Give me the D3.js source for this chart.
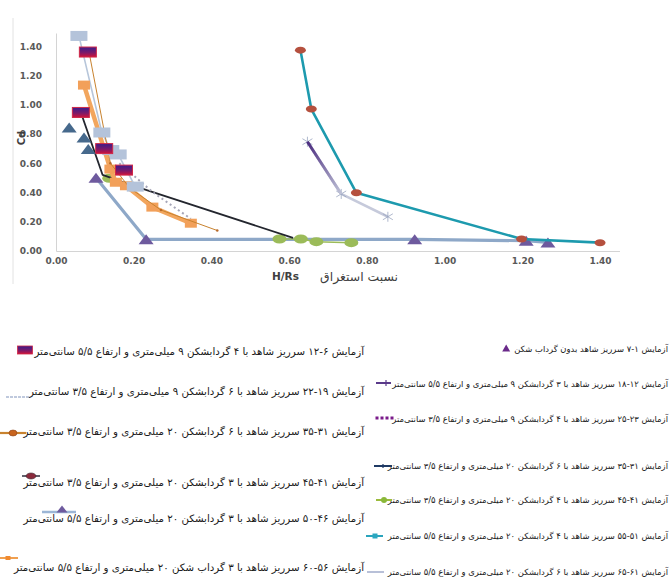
<!DOCTYPE html>
<html><head><meta charset="utf-8">
<script src="https://cdn.jsdelivr.net/npm/d3@7"></script>
<style>body{margin:0;background:#fff}svg{display:block}</style>
</head><body>
<svg id="c" width="670" height="581"></svg>
<script>
// ---------- data ----------
const xTicks = [0, 0.2, 0.4, 0.6, 0.8, 1.0, 1.2, 1.4];
const yTicks = [0, 0.2, 0.4, 0.6, 0.8, 1.0, 1.2, 1.4];

const hrs_1_7 = [0.034, 0.072, 0.083];
const cd_1_7  = [0.845, 0.776, 0.697];

const hrs_6_12 = [0.082, 0.064, 0.124, 0.175];
const cd_6_12  = [1.36, 0.947, 0.70, 0.553];

const hrs_12_18 = [0.647, 0.734];
const cd_12_18  = [0.747, 0.39];

const hrs_19_22 = [0.059, 0.118, 0.141, 0.16, 0.204];
const cd_19_22  = [1.47, 0.81, 0.69, 0.66, 0.44];

const hrs_23_25 = [0.163, 0.25, 0.347];
const cd_23_25  = [0.60, 0.40, 0.22];

const hrs_31_35a = [0.085, 0.14, 0.19, 0.27, 0.415];
const cd_31_35a  = [1.36, 0.60, 0.43, 0.28, 0.14];

const hrs_31_35b = [0.064, 0.12, 0.20, 0.61];
const cd_31_35b  = [0.947, 0.52, 0.445, 0.09];

const hrs_41_45 = [0.137, 0.575, 0.63, 0.67, 0.76];
const cd_41_45  = [0.497, 0.082, 0.082, 0.064, 0.057];

const hrs_46_50 = [0.103, 0.232, 0.923, 1.21, 1.266];
const cd_46_50  = [0.50, 0.08, 0.08, 0.07, 0.058];

const hrs_51_55 = [0.629, 0.657, 0.773, 1.198, 1.40];
const cd_51_55  = [1.373, 0.97, 0.398, 0.082, 0.057];

const hrs_56_60 = [0.072, 0.14, 0.154, 0.18, 0.248, 0.347];
const cd_56_60  = [1.134, 0.56, 0.47, 0.446, 0.30, 0.19];

const hrs_61_65 = [0.647, 0.734, 0.854];
const cd_61_65  = [0.747, 0.39, 0.234];

const legendLeft = [
  "آزمایش ۶-۱۲ سرریز شاهد با ۴ گردابشکن ۹ میلی\u200cمتری و ارتفاع ۵/۵ سانتی\u200cمتر",
  "آزمایش ۱۹-۲۲ سرریز شاهد با ۶ گردابشکن ۹ میلی\u200cمتری و ارتفاع ۳/۵ سانتی\u200cمتر",
  "آزمایش ۳۱-۳۵ سرریز شاهد با ۶ گردابشکن ۲۰ میلی\u200cمتری و ارتفاع ۳/۵ سانتی\u200cمتر",
  "آزمایش ۴۱-۴۵ سرریز شاهد با ۳ گردابشکن ۲۰ میلی\u200cمتری و ارتفاع ۳/۵ سانتی\u200cمتر",
  "آزمایش ۴۶-۵۰ سرریز شاهد با ۳ گردابشکن ۲۰ میلی\u200cمتری و ارتفاع ۵/۵ سانتی\u200cمتر",
  "آزمایش ۵۶-۶۰ سرریز شاهد با ۳ گرداب شکن ۲۰ میلی\u200cمتری و ارتفاع ۵/۵ سانتی\u200cمتر"
];
const legendRight = [
  "آزمایش ۱-۷ سرریز شاهد بدون گرداب شکن",
  "آزمایش ۱۲-۱۸ سرریز شاهد با ۳ گردابشکن ۹ میلی\u200cمتری و ارتفاع ۵/۵ سانتی\u200cمتر",
  "آزمایش ۲۳-۲۵ سرریز شاهد با ۴ گردابشکن ۹ میلی\u200cمتری و ارتفاع ۳/۵ سانتی\u200cمتر",
  "آزمایش ۳۱-۳۵ سرریز شاهد با ۶ گردابشکن ۲۰ میلی\u200cمتری و ارتفاع ۳/۵ سانتی\u200cمتر",
  "آزمایش ۴۱-۴۵ سرریز شاهد با ۴ گردابشکن ۲۰ میلی\u200cمتری و ارتفاع ۳/۵ سانتی\u200cمتر",
  "آزمایش ۵۱-۵۵ سرریز شاهد با ۴ گردابشکن ۲۰ میلی\u200cمتری و ارتفاع ۵/۵ سانتی\u200cمتر",
  "آزمایش ۶۱-۶۵ سرریز شاهد با ۶ گردابشکن ۲۰ میلی\u200cمتری و ارتفاع ۵/۵ سانتی\u200cمتر"
];
const xTitleLatin = "H/Rs";
const xTitlePersian = "نسبت استغراق";
const yTitle = "Cd";

// ---------- setup ----------
const svg = d3.select("#c");
const defs = svg.append("defs");
const grad = defs.append("linearGradient").attr("id","rg").attr("x1",0).attr("y1",0).attr("x2",0).attr("y2",1);
grad.append("stop").attr("offset","0%").attr("stop-color","#3a1c8c");
grad.append("stop").attr("offset","55%").attr("stop-color","#7a1a6a");
grad.append("stop").attr("offset","100%").attr("stop-color","#d0123a");
const pg = defs.append("linearGradient").attr("id","pg").attr("gradientUnits","userSpaceOnUse");

const x = d3.scaleLinear().domain([0, 1.45]).range([56, 56 + 1.45 * 388.6]);
const y = d3.scaleLinear().domain([0, 1.49]).range([251, 251 - 1.49 * 146.3]);

const fam = "DejaVu Sans";
function measure(t, fs, weight) {
  const n = svg.append("text").attr("font-family",fam).attr("font-size",fs)
    .attr("font-weight",weight||"normal").attr("direction","rtl").text(t);
  const w = n.node().getComputedTextLength(); n.remove(); return w;
}

// chart frame left border
svg.append("line").attr("x1",13).attr("x2",13).attr("y1",18).attr("y2",284)
  .attr("stroke","#e2e2e2").attr("stroke-width",1);

// axes
const ax = svg.append("g").attr("transform",`translate(0,${y(0)})`)
  .call(d3.axisBottom(x).tickValues(xTicks).tickFormat(d3.format(".2f")).tickSize(0).tickPadding(7));
const ay = svg.append("g").attr("transform",`translate(${x(0)},0)`)
  .call(d3.axisLeft(y).tickValues(yTicks).tickFormat(d3.format(".2f")).tickSize(0).tickPadding(14));
[ax, ay].forEach(g => {
  g.select(".domain").attr("stroke","#d4d4d4").attr("stroke-width",1);
  g.selectAll("text").attr("font-family",fam).attr("font-size",9)
    .attr("font-weight","bold").attr("fill","#595959");
});

svg.append("text").attr("transform","translate(25,138) rotate(-90)")
  .attr("text-anchor","middle").attr("font-family",fam).attr("font-weight","bold")
  .attr("font-size",10).attr("fill","#404040").text(yTitle);
svg.append("text").attr("x",272).attr("y",280).attr("font-family",fam)
  .attr("font-weight","bold").attr("font-size",10.5).attr("fill","#404040").text(xTitleLatin);
const fsX = 10 * 78 / measure(xTitlePersian, 10);
svg.append("text").attr("x",398).attr("y",281).attr("direction","rtl").attr("text-anchor","start")
  .attr("font-family",fam).attr("font-size",fsX).attr("fill","#404040").text(xTitlePersian);

// ---------- markers ----------
function marker(g, type, cx, cy, o) {
  o = o || {};
  const w = o.w || 14, h = o.h || 9;
  if (type === "tri") {
    g.append("path").attr("d",`M${cx-w/2},${cy+h/2}L${cx},${cy-h/2}L${cx+w/2},${cy+h/2}Z`)
      .attr("fill",o.fill).attr("stroke",o.stroke||"none").attr("stroke-width",0.6);
  } else if (type === "rect") {
    g.append("rect").attr("x",cx-w/2).attr("y",cy-h/2).attr("width",w).attr("height",h)
      .attr("fill",o.fill).attr("stroke",o.stroke||"none").attr("stroke-width",o.sw||0.8);
  } else if (type === "ell") {
    g.append("ellipse").attr("cx",cx).attr("cy",cy).attr("rx",w/2).attr("ry",h/2)
      .attr("fill",o.fill).attr("stroke",o.stroke||"none").attr("stroke-width",0.6);
  } else if (type === "star") {
    const s = w/2;
    [[-s,-s*0.6,s,s*0.6],[-s,s*0.6,s,-s*0.6],[0,-s,0,s]].forEach(l =>
      g.append("line").attr("x1",cx+l[0]).attr("y1",cy+l[1]).attr("x2",cx+l[2]).attr("y2",cy+l[3])
        .attr("stroke",o.stroke).attr("stroke-width",o.sw||0.9));
  } else if (type === "dot") {
    g.append("circle").attr("cx",cx).attr("cy",cy).attr("r",w/2).attr("fill",o.fill);
  } else if (type === "plus") {
    g.append("line").attr("x1",cx-w/2).attr("x2",cx+w/2).attr("y1",cy).attr("y2",cy).attr("stroke",o.stroke).attr("stroke-width",1.2);
    g.append("line").attr("x1",cx).attr("x2",cx).attr("y1",cy-h/2).attr("y2",cy+h/2).attr("stroke",o.stroke).attr("stroke-width",1.2);
  }
}

const line = d3.line().x(d => x(d[0])).y(d => y(d[1]));
const zip = (a, b) => a.map((v, i) => [v, b[i]]);

// series configs (styles only)
const series = [
  {xs: hrs_46_50, ys: cd_46_50, stroke:"#8ea8c8", sw:3.2, m:"tri", mo:{fill:"#6e5a9e", w:15, h:10}},
  {xs: hrs_41_45, ys: cd_41_45, stroke:"#9bbb59", sw:1.5, lineFrom:1, m:"ell", mo:{fill:"#9bbb59", w:14, h:9}},
  {xs: hrs_61_65, ys: cd_61_65, stroke:"#c6cadb", sw:2.6, m:"star", mo:{stroke:"#9aa6c0", w:10, sw:0.8}},
  {xs: hrs_12_18, ys: cd_12_18, stroke:"url(#pg)", sw:3, m:null},
  {xs: hrs_51_55, ys: cd_51_55, stroke:"#1d9aae", sw:2.6, m:"ell", mo:{fill:"#b5503e", w:11, h:7}},
  {xs: hrs_31_35b, ys: cd_31_35b, stroke:"#23262e", sw:1.8, m:null},
  {xs: hrs_23_25, ys: cd_23_25, stroke:"#a6a6b8", sw:2, dash:"2,3", m:null},
  {xs: hrs_19_22, ys: cd_19_22, stroke:"#b7c6da", sw:1.6, m:null},
  {xs: hrs_56_60, ys: cd_56_60, stroke:"#f2a65e", sw:4.5, m:"rect", mo:{fill:"#f2a05a", w:12, h:9}},
  {xs: hrs_31_35a, ys: cd_31_35a, stroke:"#c8822e", sw:1, m:"dot", mo:{fill:"#b86a2a", w:2.5}},
  {xs: hrs_19_22, ys: cd_19_22, stroke:"none", sw:0, m:"rect", mo:{fill:"#b4c3da", w:17, h:10}},
  {xs: hrs_6_12, ys: cd_6_12, stroke:"none", sw:0, m:"rect", mo:{fill:"url(#rg)", stroke:"#d02848", w:17, h:10, sw:1}},
  {xs: hrs_1_7, ys: cd_1_7, stroke:"none", sw:0, m:"tri", mo:{fill:"#46698c", w:15, h:10}}
];

pg.attr("x1", x(hrs_12_18[0])).attr("y1", y(cd_12_18[0]))
  .attr("x2", x(hrs_12_18[1])).attr("y2", y(cd_12_18[1]));
pg.append("stop").attr("offset","0%").attr("stop-color","#4a2a7e");
pg.append("stop").attr("offset","100%").attr("stop-color","#c0c4d8");

const plot = svg.append("g");
series.forEach(s => {
  const pts = zip(s.xs, s.ys);
  if (s.stroke !== "none") {
    plot.append("path").attr("d", line(pts.slice(s.lineFrom || 0))).attr("fill","none")
      .attr("stroke", s.stroke).attr("stroke-width", s.sw).attr("stroke-linejoin","round")
      .attr("stroke-dasharray", s.dash || null);
  }
  if (s.m) pts.forEach(p => marker(plot, s.m, x(p[0]), y(p[1]), s.mo));
});

// ---------- legend ----------
const fsL = 10 * 330 / measure(legendLeft[0], 10);
const fsR = 10 * 276 / measure(legendRight[1], 10);
const rightEdge = 668;

const lg = svg.append("g");
const leftY = [355, 395, 435, 486, 522, 571];
leftY.forEach((yy, i) => {
  lg.append("text").attr("x",364).attr("y",yy).attr("direction","rtl").attr("text-anchor","start")
    .attr("font-family",fam).attr("font-size",fsL).attr("fill","#1a1a1a").text(legendLeft[i]);
});
const rightY = [352, 387, 422, 469, 503, 539, 575];
rightY.forEach((yy, i) => {
  lg.append("text").attr("x",rightEdge).attr("y",yy).attr("direction","rtl").attr("text-anchor","start")
    .attr("font-family",fam).attr("font-size",fsR).attr("fill","#1a1a1a").text(legendRight[i]);
});
const r1Left = rightEdge - measure(legendRight[0], fsR);

function lline(x1, x2, yy, c, w, dash) {
  lg.append("line").attr("x1",x1).attr("x2",x2).attr("y1",yy).attr("y2",yy)
    .attr("stroke",c).attr("stroke-width",w).attr("stroke-dasharray",dash||null);
}
// left markers
marker(lg, "rect", 25, 350, {fill:"url(#rg)", stroke:"#d02848", w:15, h:8});
lline(6, 30, 397, "#aab8d2", 1.6, "3,1");
lline(0, 26, 433, "#c8822e", 2.2); marker(lg, "ell", 13, 433, {fill:"#c8641e", stroke:"#8a4010", w:8, h:6});
lline(22, 40, 476, "#3a3a48", 1.6); marker(lg, "ell", 31, 476, {fill:"#8a2a3c", stroke:"#3a2a30", w:10, h:6});
lline(42, 76, 512, "#9cb6d6", 2.4); marker(lg, "tri", 62, 509, {fill:"#6e5a9e", w:11, h:7});
lline(0, 18, 558, "#f0a050", 2); marker(lg, "rect", 8, 558, {fill:"#f08a30", w:5, h:4});
// right markers
marker(lg, "tri", r1Left - 8, 348, {fill:"#6a2a8a", w:8, h:7});
lline(376, 391, 383, "#5a3a8a", 2); marker(lg, "plus", 386, 383, {stroke:"#5a3a8a", w:4, h:6});
[377, 382, 387, 392].forEach(xx => marker(lg, "rect", xx, 418, {fill:"#7a1a8a", w:3, h:3}));
lline(374, 392, 466, "#1f3a64", 2); marker(lg, "plus", 383, 466, {stroke:"#1f3a64", w:3, h:4});
lline(376, 392, 500, "#9bbb3c", 2); marker(lg, "dot", 384, 500, {fill:"#8ab83a", w:6});
lline(366, 383, 536, "#2aa4bc", 2); marker(lg, "rect", 375, 536, {fill:"#2aa7c0", w:5, h:5});
lline(367, 384, 572, "#b8c0d8", 2);
</script>
</body></html>
